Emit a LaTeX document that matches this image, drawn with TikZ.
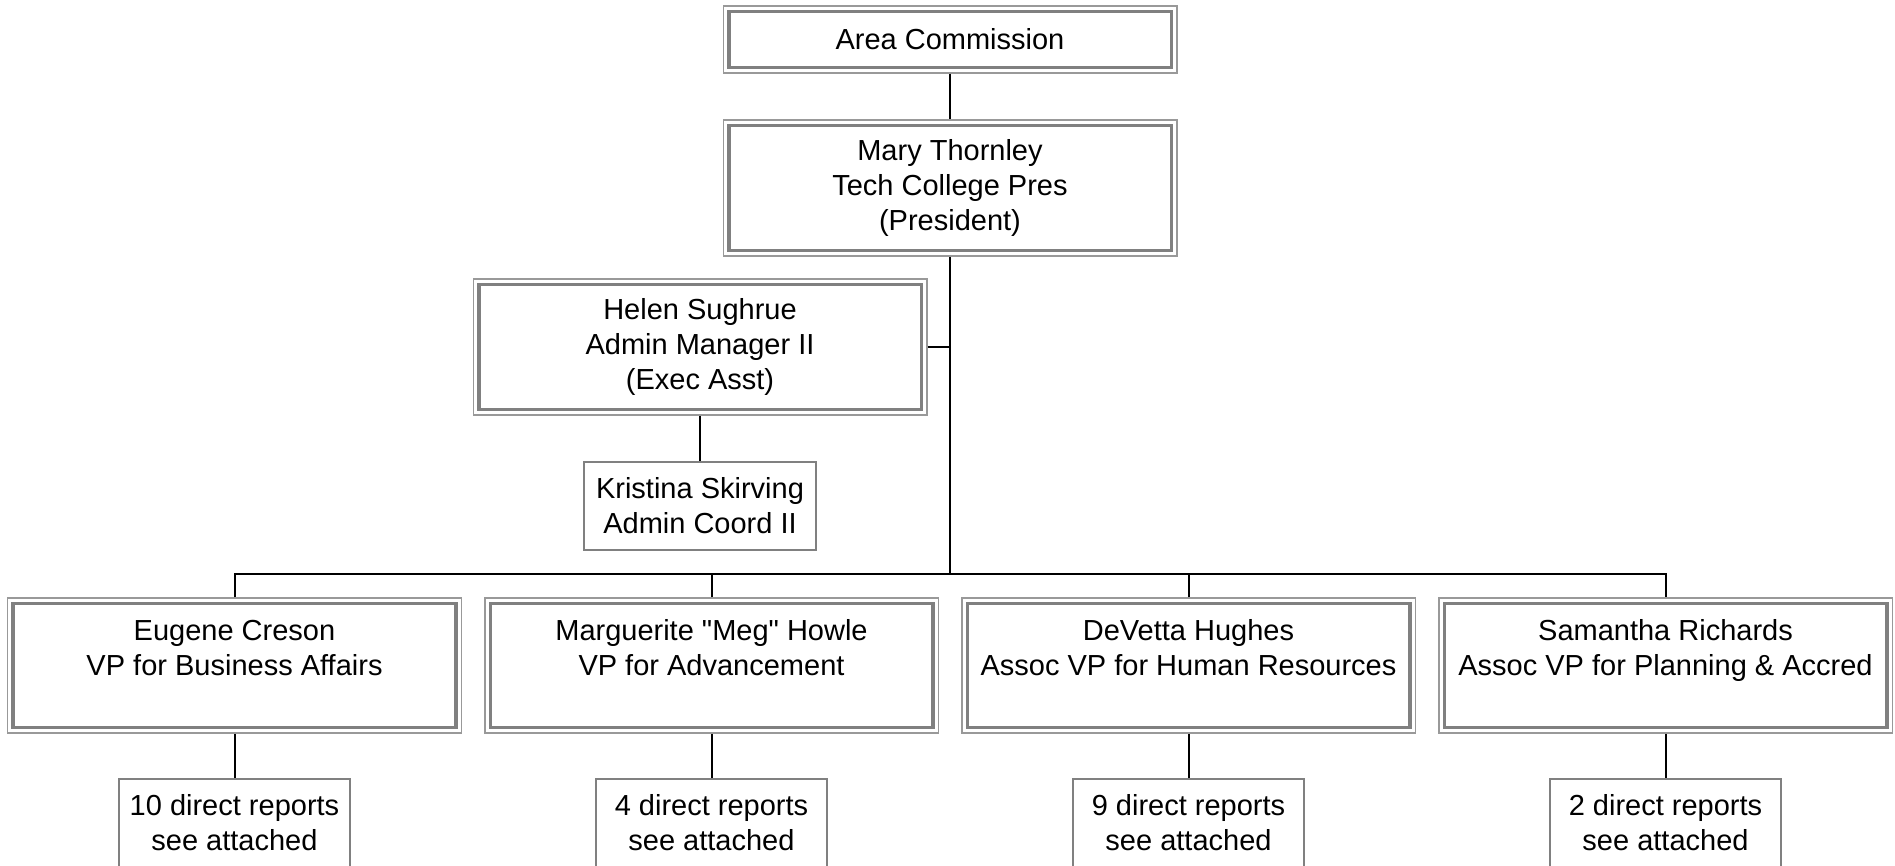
\documentclass[tikz,border=0pt]{standalone}
\usepackage{fontspec}
\setmainfont{Liberation Sans}[Ligatures=TeXOff]
\definecolor{outergray}{HTML}{999999}
\definecolor{innergray}{HTML}{808080}
\begin{document}
\begin{tikzpicture}[x=0.4pt,y=-0.4pt,
  base/.style={inner sep=0pt, align=center, text=black,
    font=\fontsize{11.6pt}{14pt}\selectfont},
  dbox/.style={base, draw=outergray, line width=0.6pt,
    minimum width=181.4pt,
    path picture={\draw[innergray, line width=1.4pt]
      ([shift={(2.2pt,-2.2pt)}]path picture bounding box.north west) rectangle
      ([shift={(-2.2pt,2.2pt)}]path picture bounding box.south east);}},
  sbox/.style={base, draw=innergray, line width=0.7pt,
    minimum width=92.4pt, minimum height=35.2pt},
  conn/.style={draw=black, line width=0.8pt}
]
\fill[white] (0,0) rectangle (1895,866);
\useasboundingbox (0,0) rectangle (1895,866);

\node[dbox, minimum height=26.8pt] (area) at (950,39.5) {Area Commission};
\node[dbox, minimum height=54.4pt] (mary) at (950,188) {Mary Thornley\\Tech College Pres\\(President)};
\node[dbox, minimum height=54.4pt] (helen) at (700,347) {Helen Sughrue\\Admin Manager II\\(Exec Asst)};
\node[sbox, minimum width=92.8pt] (kris) at (700,506) {Kristina Skirving\\Admin Coord II};

\node[dbox, minimum height=54pt] (eug) at (234.5,665.5) {Eugene Creson\\VP for Business Affairs\\[-4pt]\strut};
\node[dbox, minimum height=54pt] (meg) at (711.5,665.5) {Marguerite "Meg" Howle\\VP for Advancement\\[-4pt]\strut};
\node[dbox, minimum height=54pt] (dev) at (1188.5,665.5) {DeVetta Hughes\\Assoc VP for Human Resources\\[-4pt]\strut};
\node[dbox, minimum height=54pt] (sam) at (1665.5,665.5) {Samantha Richards\\Assoc VP for Planning \& Accred\\[-4pt]\strut};

\node[sbox] (eugr) at (234.5,823) {10 direct reports\\see attached};
\node[sbox] (megr) at (711.5,823) {4 direct reports\\see attached};
\node[sbox] (devr) at (1188.5,823) {9 direct reports\\see attached};
\node[sbox] (samr) at (1665.5,823) {2 direct reports\\see attached};

\coordinate (bus) at (950,574);

\draw[conn] (area) -- (mary);
\draw[conn, line width=1pt] (mary.south) -- (bus);
\draw[conn] (helen.east) -- (helen.east -| mary.south);
\draw[conn] (helen) -- (kris);
\draw[conn] (eug.north) |- (bus) -| (sam.north);
\draw[conn] (meg.north) -- (meg.north |- bus);
\draw[conn] (dev.north) -- (dev.north |- bus);
\draw[conn] (eug) -- (eugr);
\draw[conn] (meg) -- (megr);
\draw[conn] (dev) -- (devr);
\draw[conn] (sam) -- (samr);
\end{tikzpicture}
\end{document}
